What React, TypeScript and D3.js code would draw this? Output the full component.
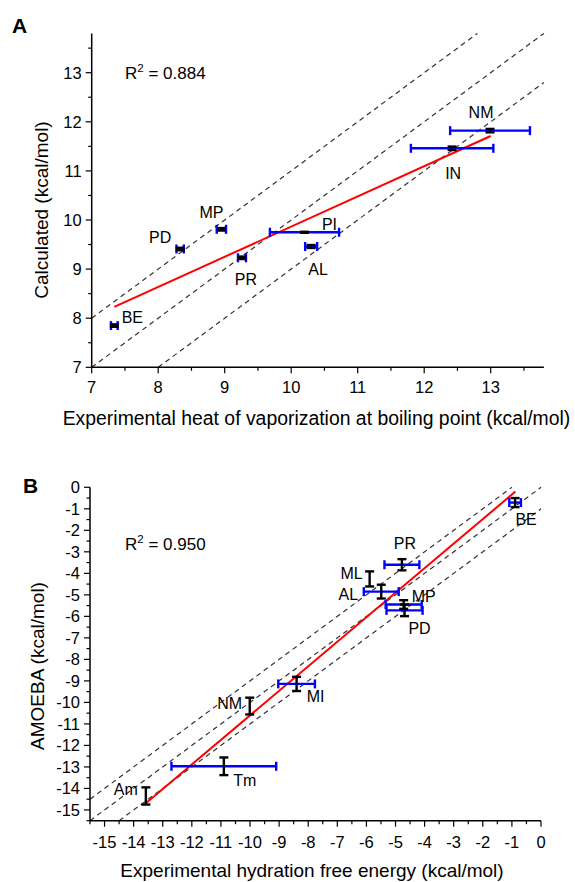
import React from 'react';
import * as d3 from 'd3';

// Panel A: heat of vaporization
const aNames = ['BE', 'PD', 'MP', 'PR', 'PI', 'AL', 'IN', 'NM'];
const aExp = [7.34, 8.33, 8.95, 9.26, 10.2, 10.3, 12.42, 12.99];
const aCalc = [7.85, 9.41, 9.81, 9.23, 9.75, 9.46, 11.46, 11.82];
const aExpErr = [0.05, 0.055, 0.07, 0.06, 0.52, 0.09, 0.62, 0.6];
const aCalcErr = [0.025, 0.025, 0.025, 0.025, 0.01, 0.03, 0.035, 0.035];
const aFitX = [7.34, 13.0];
const aFitY = [8.23, 11.71];
const aTicks = [7, 8, 9, 10, 11, 12, 13];
const aR2 = '0.884';

// Panel B: hydration free energy
const bNames = ['BE', 'PR', 'ML', 'AL', 'MP', 'PD', 'MI', 'NM', 'Tm', 'Am'];
const bExp = [-0.89, -4.78, -5.89, -5.49, -4.72, -4.69, -8.4, -10.01, -10.9, -13.58];
const bCalc = [-0.71, -3.6, -4.26, -4.85, -5.45, -5.72, -9.14, -10.17, -12.97, -14.35];
const bExpErr = [0.2, 0.6, 0, 0.6, 0.62, 0.62, 0.63, 0, 1.8, 0];
const bCalcErr = [0.21, 0.26, 0.35, 0.32, 0.2, 0.27, 0.33, 0.39, 0.41, 0.4];
const bFitX = [-13.61, -0.88];
const bFitY = [-14.72, -0.2];
const bTicks = [-15, -14, -13, -12, -11, -10, -9, -8, -7, -6, -5, -4, -3, -2, -1, 0];
const bR2 = '0.950';

const refOffsets = [-1, 0, 1];

// label placement (px, relative to point)
const aLabelOff: Record<string, [number, number]> = {
  BE: [18, -8], PD: [-20, -11.5], MP: [-10, -17], PR: [4, 21.5],
  PI: [25, -8], AL: [7, 23], IN: [1, 24.5], NM: [-9, -18],
};
const bLabelOff: Record<string, [number, number]> = {
  BE: [11, 17], PR: [3, -21], ML: [-18, -6], AL: [-33, 3], MP: [20, -8],
  PD: [15, 18], NM: [-20, -3], MI: [19, 12.5], Tm: [21, 14], Am: [-20, -7],
};

const FONT = '"Liberation Sans", Arial, sans-serif';

type PanelProps = {
  letter: string;
  letterPos: [number, number];
  domain: [number, number];
  xRange: [number, number];
  yRange: [number, number];
  ticks: number[];
  names: string[];
  xs: number[];
  ys: number[];
  xErr: number[];
  yErr: number[];
  fitX: number[];
  fitY: number[];
  r2: string;
  r2Pos: [number, number];
  labelOff: Record<string, [number, number]>;
  xTitle: string;
  yTitle: string;
  xTitlePos: [number, number];
  yTitlePos: [number, number];
  xTitleSize: number;
  xLabelDy: number;
};

function Panel(p: PanelProps) {
  const x = d3.scaleLinear().domain(p.domain).range(p.xRange);
  const y = d3.scaleLinear().domain(p.domain).range(p.yRange);
  const [lo, hi] = p.domain;
  const minor = d3.range(Math.ceil(lo * 2) / 2, hi + 1e-6, 0.5).filter(v => !p.ticks.includes(v));
  const x0 = p.xRange[0];
  const y0 = p.yRange[0];
  const fit = d3.line<number>().x((d, i) => x(p.fitX[i])).y((d, i) => y(p.fitY[i]));
  const cap = 4.5;

  return (
    <g fontFamily={FONT}>
      <text x={p.letterPos[0]} y={p.letterPos[1]} fontSize={21} fontWeight="bold">{p.letter}</text>

      {/* reference lines y = x + c */}
      {refOffsets.map(c => {
        const xa = Math.max(lo, lo - c);
        const xb = Math.min(hi, hi - c);
        return (
          <line key={c} x1={x(xa)} y1={y(xa + c)} x2={x(xb)} y2={y(xb + c)}
            stroke="#333" strokeWidth={1.2} strokeDasharray="5,4" />
        );
      })}

      <path d={fit(p.fitX) || ''} fill="none" stroke="#ff0000" strokeWidth={2} />

      {/* horizontal (experimental) error bars */}
      {p.names.map((n, i) => p.xErr[i] > 0 ? (
        <g key={'bx' + n} stroke="#0000ff" strokeWidth={2.4}>
          <line x1={x(p.xs[i] - p.xErr[i])} x2={x(p.xs[i] + p.xErr[i])} y1={y(p.ys[i])} y2={y(p.ys[i])} />
          <line x1={x(p.xs[i] - p.xErr[i])} x2={x(p.xs[i] - p.xErr[i])} y1={y(p.ys[i]) - cap} y2={y(p.ys[i]) + cap} />
          <line x1={x(p.xs[i] + p.xErr[i])} x2={x(p.xs[i] + p.xErr[i])} y1={y(p.ys[i]) - cap} y2={y(p.ys[i]) + cap} />
        </g>
      ) : null)}

      {/* vertical (calculated) error bars */}
      {p.names.map((n, i) => (
        <g key={'by' + n} stroke="#000" strokeWidth={2.4}>
          <line x1={x(p.xs[i])} x2={x(p.xs[i])} y1={y(p.ys[i] - p.yErr[i])} y2={y(p.ys[i] + p.yErr[i])} />
          <line x1={x(p.xs[i]) - cap} x2={x(p.xs[i]) + cap} y1={y(p.ys[i] - p.yErr[i])} y2={y(p.ys[i] - p.yErr[i])} />
          <line x1={x(p.xs[i]) - cap} x2={x(p.xs[i]) + cap} y1={y(p.ys[i] + p.yErr[i])} y2={y(p.ys[i] + p.yErr[i])} />
        </g>
      ))}

      {p.names.map((n, i) => (
        <text key={'l' + n} x={x(p.xs[i]) + p.labelOff[n][0]} y={y(p.ys[i]) + p.labelOff[n][1]}
          dy="0.36em" textAnchor="middle" fontSize={16}>{n}</text>
      ))}

      <text x={p.r2Pos[0]} y={p.r2Pos[1]} fontSize={17}>
        R<tspan dy={-7} fontSize={11.5}>2</tspan><tspan dy={7}> = {p.r2}</tspan>
      </text>

      {/* axes */}
      <line x1={x0} x2={x0} y1={p.yRange[0]} y2={p.yRange[1]} stroke="#000" strokeWidth={1.5} />
      <line x1={p.xRange[0]} x2={p.xRange[1]} y1={y0} y2={y0} stroke="#000" strokeWidth={1.5} />
      {p.ticks.map(t => (
        <g key={'t' + t}>
          <line x1={x0 - 6} x2={x0} y1={y(t)} y2={y(t)} stroke="#000" strokeWidth={1.2} />
          <text x={x0 - 10} y={y(t)} dy="0.36em" textAnchor="end" fontSize={16.5}>{String(t)}</text>
          <line x1={x(t)} x2={x(t)} y1={y0} y2={y0 + 6} stroke="#000" strokeWidth={1.2} />
          <text x={x(t)} y={y0 + p.xLabelDy} textAnchor="middle" fontSize={16.5}>{String(t)}</text>
        </g>
      ))}
      {minor.map(t => (
        <g key={'m' + t}>
          <line x1={x0 - 3.5} x2={x0} y1={y(t)} y2={y(t)} stroke="#000" strokeWidth={1.2} />
          <line x1={x(t)} x2={x(t)} y1={y0} y2={y0 + 3.5} stroke="#000" strokeWidth={1.2} />
        </g>
      ))}

      <text x={p.xTitlePos[0]} y={p.xTitlePos[1]} textAnchor="middle" fontSize={p.xTitleSize}>{p.xTitle}</text>
      <text transform={`translate(${p.yTitlePos[0]},${p.yTitlePos[1]}) rotate(-90)`} dy="0.36em"
        textAnchor="middle" fontSize={19}>{p.yTitle}</text>
    </g>
  );
}

export default function App() {
  return (
    <svg width={575} height={882} style={{ position: 'absolute', left: 0, top: 0, background: '#fff' }}>
      <rect width={575} height={882} fill="#fff" />
      <Panel letter="A" letterPos={[12, 33]} domain={[7, 13.8]} xRange={[91.7, 543.9]} yRange={[367.3, 33.4]}
        ticks={aTicks} names={aNames} xs={aExp} ys={aCalc} xErr={aExpErr} yErr={aCalcErr}
        fitX={aFitX} fitY={aFitY} r2={aR2} r2Pos={[125, 78.5]} labelOff={aLabelOff}
        xTitle="Experimental heat of vaporization at boiling point (kcal/mol)" yTitle="Calculated (kcal/mol)"
        xTitlePos={[316.5, 425]} yTitlePos={[41, 210]} xTitleSize={19.4} xLabelDy={25.5} />
      <Panel letter="B" letterPos={[23, 492.5]} domain={[-15.5, 0]} xRange={[90, 541]} yRange={[820.7, 487.3]}
        ticks={bTicks} names={bNames} xs={bExp} ys={bCalc} xErr={bExpErr} yErr={bCalcErr}
        fitX={bFitX} fitY={bFitY} r2={bR2} r2Pos={[125, 549.5]} labelOff={bLabelOff}
        xTitle="Experimental hydration free energy (kcal/mol)" yTitle="AMOEBA (kcal/mol)"
        xTitlePos={[312, 877]} yTitlePos={[37, 666]} xTitleSize={19} xLabelDy={27} />
    </svg>
  );
}
